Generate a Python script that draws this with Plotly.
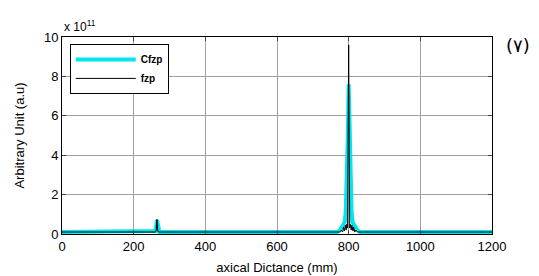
import plotly.graph_objects as go

# axial distance (mm) and amplitudes (x 1e11, a.u.)
cfzp_x = [0, 258, 261, 265, 269, 272, 768, 776, 781, 785, 789, 792, 795, 798, 800, 802, 805, 808, 811, 815, 819, 824, 832, 1200]
cfzp_y = [0.1, 0.1, 0.15, 0.7, 0.15, 0.1, 0.1, 0.2, 0.35, 0.45, 0.6, 1.2, 2.6, 5.2, 7.6, 5.2, 2.6, 1.2, 0.6, 0.45, 0.35, 0.2, 0.1, 0.1]

fzp_x = [0, 261, 263, 265, 267, 269, 775, 780, 783, 786, 788, 791, 793, 795, 797, 799, 800, 801, 803, 805, 807, 809, 812, 814, 817, 820, 825, 1200]
fzp_y = [0.1, 0.1, 0.2, 0.75, 0.2, 0.1, 0.1, 0.2, 0.1, 0.35, 0.15, 0.45, 0.2, 0.5, 0.3, 6.0, 9.6, 6.0, 0.3, 0.5, 0.2, 0.45, 0.15, 0.35, 0.1, 0.2, 0.1, 0.1]

x_ticks = [0, 200, 400, 600, 800, 1000, 1200]
y_ticks = [0, 2, 4, 6, 8, 10]

fig = go.Figure()
fig.add_trace(go.Scatter(x=cfzp_x, y=cfzp_y, mode="lines", name="Cfzp",
                         line=dict(color="#00e5ee", width=4)))
fig.add_trace(go.Scatter(x=fzp_x, y=fzp_y, mode="lines", name="fzp",
                         line=dict(color="black", width=1)))

font = "Liberation Sans, Arial, sans-serif"
fig.update_layout(
    width=539, height=276,
    margin=dict(l=54, r=55, t=29, b=50),
    paper_bgcolor="white", plot_bgcolor="white",
    font=dict(family=font, size=13, color="black"),
    showlegend=True,
    legend=dict(x=0.018, y=0.965, xanchor="left", yanchor="top",
                bgcolor="white", bordercolor="black", borderwidth=1,
                font=dict(size=10, family=font, weight="bold"),
                itemwidth=60, tracegroupgap=0),
    xaxis=dict(range=[0, 1200], tickvals=x_ticks, ticks="inside", ticklen=4,
               showline=True, linecolor="black", linewidth=1, mirror="ticks",
               showgrid=True, gridcolor="#a0a0a0", gridwidth=1, zeroline=False,
               automargin=False,
               title=dict(text="axical Dictance (mm)", standoff=10, font=dict(size=13))),
    yaxis=dict(range=[0, 10], tickvals=y_ticks, ticks="inside", ticklen=4,
               showline=True, linecolor="black", linewidth=1, mirror="ticks",
               showgrid=True, gridcolor="#a0a0a0", gridwidth=1, zeroline=False,
               automargin=False,
               title=dict(text="Arbitrary Unit (a.u)", standoff=16, font=dict(size=13))),
)
fig.add_annotation(x=0, y=1.0, xref="paper", yref="paper", xanchor="left", yanchor="bottom",
                   text="x 10<sup>11</sup>", showarrow=False, font=dict(size=12), yshift=1)
fig.add_annotation(x=1.0, y=1.0, xref="paper", yref="paper", xanchor="left", yanchor="top",
                   text="(٧)", showarrow=False, font=dict(size=18, family="DejaVu Sans"),
                   xshift=12, yshift=4)

fig.write_html("out.html")
